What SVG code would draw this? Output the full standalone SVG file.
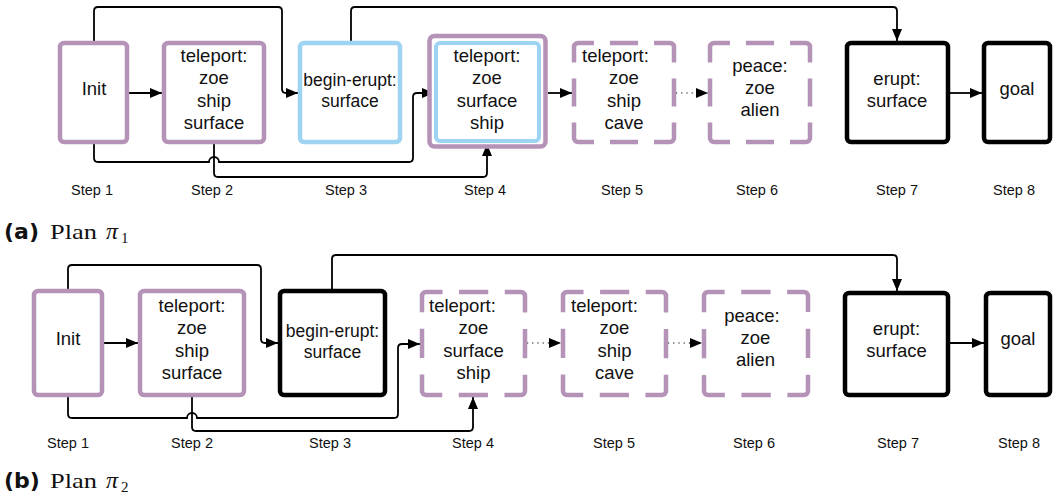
<svg xmlns="http://www.w3.org/2000/svg" width="1055" height="500" viewBox="0 0 1055 500">
<style>
.bg{fill:#ffffff}
.box{fill:#ffffff;stroke-width:4.5}
.pur{stroke:#b592b8}
.blu{stroke:#9ed3f1}
.blk{stroke:#000000}
.dash{fill:#ffffff;stroke:#b592b8;stroke-width:4.5;stroke-dasharray:40 17 30 17;stroke-dashoffset:23}
.t{font-family:"Liberation Sans",Arial,sans-serif;font-size:18.5px;fill:#111;text-anchor:middle}
.ts{font-family:"Liberation Sans",Arial,sans-serif;font-size:17.5px;fill:#111;text-anchor:middle}
.tl{font-family:"Liberation Sans",Arial,sans-serif;font-size:18.5px;fill:#111;text-anchor:start}
.step{font-family:"Liberation Sans",Arial,sans-serif;font-size:14.5px;fill:#111;text-anchor:middle}
.cap{font-family:"DejaVu Sans",sans-serif;font-weight:bold;font-size:22px;fill:#111}
.capr{font-family:"Liberation Serif",serif;font-size:22px;fill:#111}
.con{fill:none;stroke:#000;stroke-width:1.8;marker-end:url(#ah)}
.dot{fill:none;stroke:#000;stroke-width:1;stroke-dasharray:1.2 4;marker-end:url(#ah)}
</style>
<defs>
<marker id="ah" markerUnits="userSpaceOnUse" markerWidth="12" markerHeight="10" refX="12" refY="5" orient="auto">
<path d="M0,0 L12,5 L0,10 Z" fill="#000"/>
</marker>
</defs>
<rect class="bg" x="0" y="0" width="1055" height="500"/>

<!-- connectors (a) and (b) -->
<g id="connectors">
<path class="con" d="M129,93 H162"/>
<path class="con" d="M94,41 V11 Q94,7 98,7 H278 Q282,7 282,11 V89 Q282,93 286,93 H298"/>
<path class="con" d="M351,41 V11 Q351,7 355,7 H893 Q897,7 897,11 V41"/>
<path class="con" d="M94,144 V158 Q94,162 98,162 H209 A5,5 0 0 1 219,162 H409 Q413,162 413,158 V97 Q413,93 417,93 H434"/>
<path class="con" d="M214,144 V173 Q214,177 218,177 H483 Q487,177 487,173 V144"/>
<path class="con" d="M548,93 H572"/>
<path class="dot" d="M676,93 H708"/>
<path class="con" d="M950,93 H982"/>

<path class="con" d="M104,343 H138"/>
<path class="con" d="M68,289 V269 Q68,265 72,265 H257 Q261,265 261,269 V339 Q261,343 265,343 H278"/>
<path class="con" d="M332,289 V259 Q332,255 336,255 H893 Q897,255 897,259 V291"/>
<path class="con" d="M68,397 V414 Q68,418 72,418 H187 A5,5 0 0 1 197,418 H394 Q398,418 398,414 V348 Q398,344 402,344 H420"/>
<path class="con" d="M192,397 V427 Q192,431 196,431 H469 Q473,431 473,427 V397"/>
<path class="dot" d="M527,343 H561"/>
<path class="dot" d="M668,343 H702"/>
<path class="con" d="M950,343 H984"/>
</g>

<!-- Plan (a) -->
<g id="a-step1">
<rect class="box pur" x="60" y="43" width="67" height="99" rx="4"/>
<text class="t" x="94" y="95">Init</text>
<text class="step" x="92" y="195">Step 1</text>
</g>
<g id="a-step2">
<rect class="box pur" x="164" y="43" width="100" height="99" rx="4"/>
<text class="t" x="214" y="62">teleport:</text>
<text class="t" x="214" y="84">zoe</text>
<text class="t" x="214" y="107">ship</text>
<text class="t" x="214" y="129">surface</text>
<text class="step" x="212" y="195">Step 2</text>
</g>
<g id="a-step3">
<rect class="box blu" x="300" y="43" width="100" height="99" rx="4"/>
<text class="ts" x="350" y="86">begin-erupt:</text>
<text class="ts" x="350" y="107">surface</text>
<text class="step" x="346" y="195">Step 3</text>
</g>
<g id="a-step4">
<rect class="box pur" x="429.5" y="36" width="116" height="110.5" rx="5"/>
<rect class="box blu" x="436" y="43" width="103" height="98" rx="4" style="stroke-width:4"/>
<text class="t" x="487" y="62">teleport:</text>
<text class="t" x="487" y="84">zoe</text>
<text class="t" x="487" y="107">surface</text>
<text class="t" x="487" y="129">ship</text>
<text class="step" x="485" y="195">Step 4</text>
</g>
<g id="a-step5">
<path class="dash" pathLength="416" d="M578,43 H670 A4,4 0 0 1 674,47 V138 A4,4 0 0 1 670,142 H578 A4,4 0 0 1 574,138 V47 A4,4 0 0 1 578,43 Z"/>
<text class="tl" x="582" y="62">teleport:</text>
<text class="t" x="624" y="84">zoe</text>
<text class="t" x="624" y="107">ship</text>
<text class="t" x="624" y="129">cave</text>
<text class="step" x="622" y="195">Step 5</text>
</g>
<g id="a-step6">
<path class="dash" pathLength="416" d="M714,43 H806 A4,4 0 0 1 810,47 V138 A4,4 0 0 1 806,142 H714 A4,4 0 0 1 710,138 V47 A4,4 0 0 1 714,43 Z"/>
<text class="t" x="760" y="72">peace:</text>
<text class="t" x="760" y="94">zoe</text>
<text class="t" x="760" y="116">alien</text>
<text class="step" x="757" y="195">Step 6</text>
</g>
<g id="a-step7">
<rect class="box blk" x="847" y="43" width="101" height="99" rx="4"/>
<text class="t" x="897" y="85">erupt:</text>
<text class="t" x="897" y="107">surface</text>
<text class="step" x="897" y="195">Step 7</text>
</g>
<g id="a-step8">
<rect class="box blk" x="984" y="43" width="66" height="99" rx="4"/>
<text class="t" x="1017" y="95">goal</text>
<text class="step" x="1014" y="195">Step 8</text>
</g>
<g id="caption-a">
<text class="cap" x="4" y="239">(a)</text>
<text class="capr" x="50" y="239" textLength="47" lengthAdjust="spacingAndGlyphs">Plan</text>
<text class="capr" x="106" y="239" font-style="italic" style="font-size:24px">π</text>
<text class="capr" x="121" y="243" style="font-size:15px">1</text>
</g>

<!-- Plan (b) -->
<g id="b-step1">
<rect class="box pur" x="34" y="291" width="68" height="104" rx="4"/>
<text class="t" x="68" y="345">Init</text>
<text class="step" x="68" y="448">Step 1</text>
</g>
<g id="b-step2">
<rect class="box pur" x="140" y="291" width="104" height="104" rx="4"/>
<text class="t" x="192" y="312">teleport:</text>
<text class="t" x="192" y="334">zoe</text>
<text class="t" x="192" y="357">ship</text>
<text class="t" x="192" y="379">surface</text>
<text class="step" x="192" y="448">Step 2</text>
</g>
<g id="b-step3">
<rect class="box blk" x="280" y="291" width="105" height="104" rx="4"/>
<text class="ts" x="332.5" y="337">begin-erupt:</text>
<text class="ts" x="332.5" y="358">surface</text>
<text class="step" x="330" y="448">Step 3</text>
</g>
<g id="b-step4">
<path class="dash" pathLength="416" d="M426,292 H521 A4,4 0 0 1 525,296 V391 A4,4 0 0 1 521,395 H426 A4,4 0 0 1 422,391 V296 A4,4 0 0 1 426,292 Z"/>
<text class="tl" x="429" y="312">teleport:</text>
<text class="t" x="473.5" y="334">zoe</text>
<text class="t" x="473.5" y="357">surface</text>
<text class="t" x="473.5" y="379">ship</text>
<text class="step" x="473" y="448">Step 4</text>
</g>
<g id="b-step5">
<path class="dash" pathLength="416" d="M567,292 H662 A4,4 0 0 1 666,296 V391 A4,4 0 0 1 662,395 H567 A4,4 0 0 1 563,391 V296 A4,4 0 0 1 567,292 Z"/>
<text class="tl" x="571" y="312">teleport:</text>
<text class="t" x="614.5" y="334">zoe</text>
<text class="t" x="614.5" y="357">ship</text>
<text class="t" x="614.5" y="379">cave</text>
<text class="step" x="614" y="448">Step 5</text>
</g>
<g id="b-step6">
<path class="dash" pathLength="416" d="M708,292 H804 A4,4 0 0 1 808,296 V391 A4,4 0 0 1 804,395 H708 A4,4 0 0 1 704,391 V296 A4,4 0 0 1 708,292 Z"/>
<text class="t" x="752" y="322">peace:</text>
<text class="t" x="755.5" y="344">zoe</text>
<text class="t" x="755.5" y="366">alien</text>
<text class="step" x="754" y="448">Step 6</text>
</g>
<g id="b-step7">
<rect class="box blk" x="845" y="293" width="103" height="102" rx="4"/>
<text class="t" x="896.5" y="335">erupt:</text>
<text class="t" x="896.5" y="357">surface</text>
<text class="step" x="898" y="448">Step 7</text>
</g>
<g id="b-step8">
<rect class="box blk" x="986" y="293" width="64" height="102" rx="4"/>
<text class="t" x="1018" y="345">goal</text>
<text class="step" x="1019" y="448">Step 8</text>
</g>
<g id="caption-b">
<text class="cap" x="4" y="488">(b)</text>
<text class="capr" x="50" y="488" textLength="47" lengthAdjust="spacingAndGlyphs">Plan</text>
<text class="capr" x="106" y="488" font-style="italic" style="font-size:24px">π</text>
<text class="capr" x="121" y="492" style="font-size:15px">2</text>
</g>
</svg>
